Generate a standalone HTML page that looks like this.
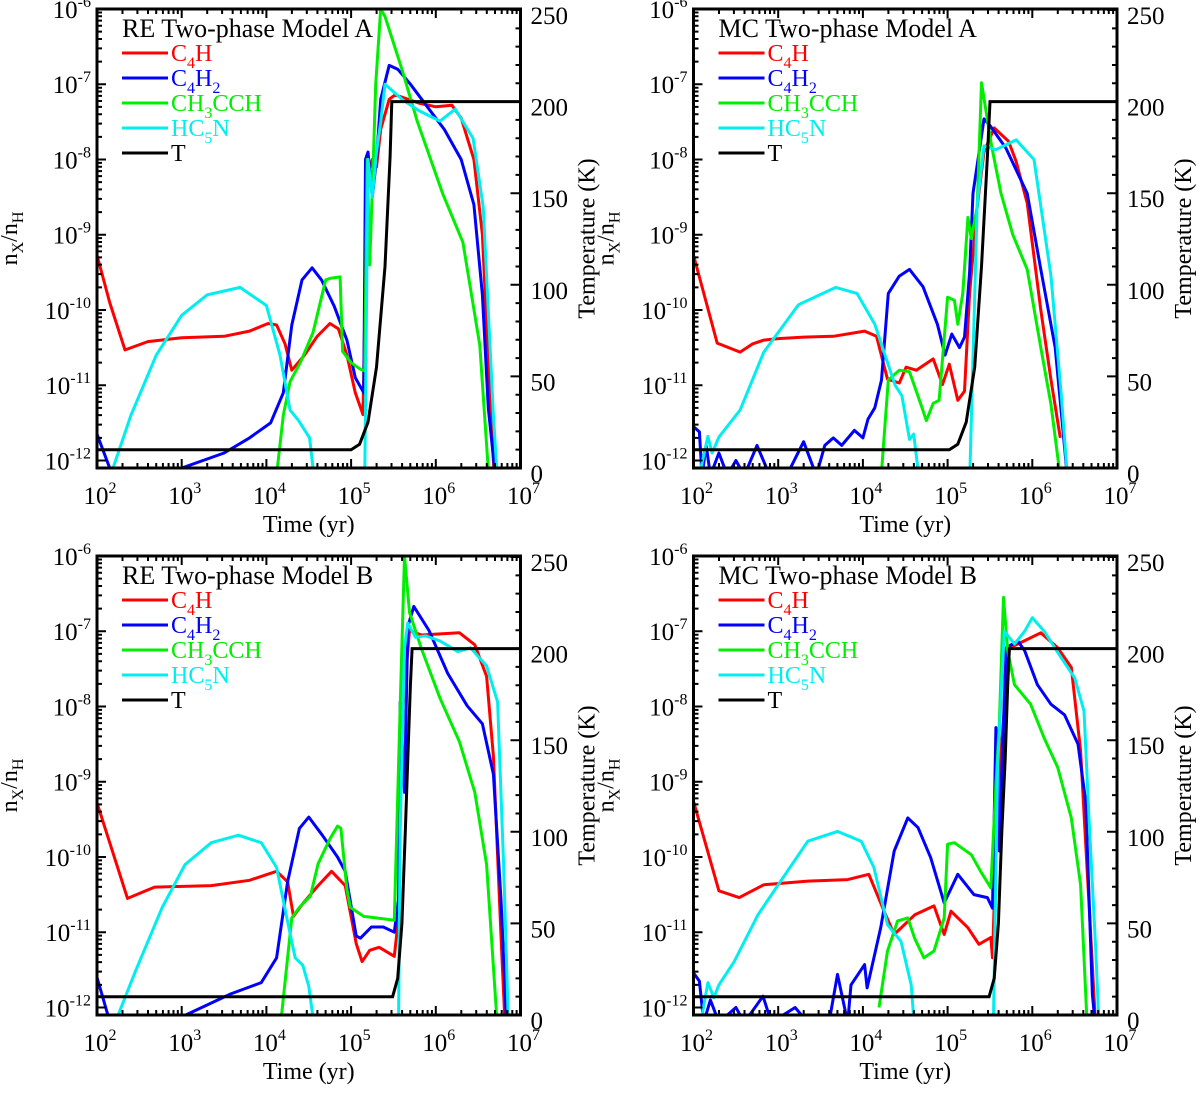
<!DOCTYPE html>
<html><head><meta charset="utf-8"><style>
html,body{margin:0;padding:0;background:#fff;}
svg{display:block;}
text{font-family:"Liberation Serif","Times New Roman",serif;}
</style></head><body>
<svg id="fig" width="1200" height="1102" viewBox="0 0 1200 1102" xmlns="http://www.w3.org/2000/svg" font-family="Liberation Serif, serif"></svg>
<script>
// ---- Data: log10(time/yr) and log10(nX/nH); temperatures in K ----
// Panel RE Model A
const reA_C4H_t = [2,2.15,2.33,2.6,3,3.5,3.8,4.02,4.12,4.22,4.3,4.45,4.6,4.75,4.85,4.95,5.05,5.14,5.17,5.2,5.25,5.3,5.35,5.45,5.52,5.8,6.0,6.19,6.3,6.45,6.55,6.64,6.7];
const reA_C4H_n = [-9.27,-9.9,-10.53,-10.42,-10.37,-10.35,-10.28,-10.18,-10.2,-10.45,-10.8,-10.6,-10.35,-10.18,-10.25,-10.6,-11.1,-11.39,-9.5,-8.2,-8.0,-8.1,-7.6,-7.2,-7.14,-7.25,-7.3,-7.28,-7.45,-8.0,-9.0,-11.2,-12.4];
const reA_C4H2_t = [2,2.15,2.2,3.0,3.5,3.8,4.05,4.2,4.3,4.42,4.54,4.65,4.8,4.95,5.05,5.15,5.17,5.2,5.25,5.3,5.35,5.45,5.55,5.7,5.9,6.1,6.2,6.3,6.45,6.55,6.62,6.72];
const reA_C4H2_n = [-11.65,-12.1,-12.4,-12.1,-11.9,-11.7,-11.5,-11.1,-10.2,-9.6,-9.44,-9.6,-9.95,-10.4,-10.9,-11.1,-8.0,-7.9,-8.5,-8.0,-7.2,-6.75,-6.8,-7.0,-7.3,-7.6,-7.8,-8.0,-8.6,-9.8,-11.3,-12.4];
const reA_CH3CCH_t = [4.11,4.2,4.28,4.4,4.55,4.7,4.75,4.87,4.9,5.0,5.1,5.16,5.19,5.22,5.26,5.29,5.35,5.4,5.6,5.78,6.08,6.32,6.52,6.63];
const reA_CH3CCH_n = [-12.3,-11.4,-10.95,-10.7,-10.3,-9.6,-9.58,-9.56,-10.55,-10.7,-10.78,-10.81,-8.0,-9.4,-8.1,-7.0,-6.0,-6.1,-6.8,-7.49,-8.45,-9.1,-10.47,-12.3];
const reA_HC5N_t = [2.13,2.4,2.7,3.0,3.3,3.69,4.0,4.16,4.28,4.38,4.51,4.57,5.16,5.2,5.25,5.3,5.35,5.4,5.61,5.8,6.05,6.23,6.44,6.56,6.68,6.73];
const reA_HC5N_n = [-12.3,-11.4,-10.6,-10.07,-9.8,-9.7,-9.94,-10.6,-11.33,-11.47,-11.7,-12.3,-12.3,-8.0,-8.5,-7.9,-7.5,-7.0,-7.21,-7.35,-7.49,-7.33,-7.72,-8.63,-11.4,-12.3];
const reA_T_t = [2,5.0,5.1,5.2,5.3,5.4,5.46,5.48,7];
const reA_T_v = [10,10,13,25,55,110,170,200,200];
// Panel MC Model A
const mcA_C4H_t = [2,2.28,2.55,2.7,2.83,3.0,3.3,3.65,4.02,4.16,4.29,4.43,4.51,4.63,4.83,4.94,5.02,5.12,5.2,5.26,5.35,5.43,5.55,5.72,5.81,5.94,6.1,6.22,6.33];
const mcA_C4H_n = [-9.27,-10.44,-10.56,-10.45,-10.4,-10.38,-10.36,-10.35,-10.28,-10.35,-10.92,-10.97,-10.76,-10.8,-10.65,-10.99,-10.72,-11.2,-11.08,-9.78,-8.63,-7.9,-7.58,-7.76,-8.03,-8.58,-10.0,-10.92,-11.7];
const mcA_C4H2_t = [2,2.07,2.1,2.15,2.2,2.3,2.4,2.5,2.6,2.75,2.9,3.0,3.1,3.3,3.45,3.55,3.65,3.75,3.9,4.0,4.06,4.14,4.22,4.3,4.43,4.55,4.71,4.88,4.97,5.05,5.14,5.2,5.26,5.3,5.43,5.5,5.69,5.81,5.94,6.1,6.27,6.42];
const mcA_C4H2_n = [-11.55,-11.62,-12.2,-11.8,-12.2,-11.9,-12.2,-12.0,-12.2,-11.8,-12.2,-12.1,-12.2,-11.75,-12.2,-11.8,-11.7,-11.8,-11.6,-11.7,-11.45,-11.3,-10.93,-9.78,-9.55,-9.46,-9.69,-10.19,-10.6,-10.32,-10.5,-10.36,-9.5,-8.45,-7.46,-7.55,-7.85,-8.14,-8.45,-9.46,-10.5,-12.3];
const mcA_CH3CCH_t = [4.21,4.3,4.43,4.55,4.68,4.75,4.83,4.9,5.0,5.08,5.12,5.18,5.24,5.28,5.35,5.4,5.52,5.63,5.77,5.94,6.1,6.22,6.34];
const mcA_CH3CCH_n = [-12.3,-10.93,-10.8,-10.82,-11.24,-11.47,-11.24,-11.2,-9.83,-9.87,-10.19,-9.78,-8.77,-9.05,-8.63,-6.98,-7.82,-8.45,-9.0,-9.46,-10.5,-11.25,-12.3];
const mcA_HC5N_t = [2.05,2.17,2.22,2.3,2.55,2.83,3.24,3.68,3.93,4.14,4.38,4.46,4.55,4.6,4.67,5.26,5.35,5.43,5.57,5.81,6.02,6.22,6.34,6.42];
const mcA_HC5N_n = [-12.3,-11.68,-11.9,-11.69,-11.33,-10.56,-9.93,-9.7,-9.78,-10.19,-11.0,-11.14,-11.72,-11.65,-12.3,-12.3,-8.59,-7.82,-7.87,-7.74,-8.0,-9.54,-11.1,-12.3];
const mcA_T_t = [2,5.02,5.12,5.22,5.32,5.4,5.47,5.5,7];
const mcA_T_v = [10,10,13,25,55,110,170,200,200];
// Panel RE Model B
const reB_C4H_t = [2,2.36,2.68,3.35,3.8,4.12,4.25,4.32,4.43,4.61,4.77,4.93,5.06,5.13,5.22,5.33,5.51,5.56,5.6,5.69,5.83,6.28,6.46,6.6,6.68,6.77,6.82];
const reB_C4H_n = [-9.28,-10.55,-10.4,-10.38,-10.31,-10.19,-10.33,-10.79,-10.62,-10.38,-10.19,-10.38,-11.15,-11.39,-11.24,-11.2,-11.32,-10.81,-8.18,-6.99,-7.05,-7.02,-7.18,-7.6,-8.66,-11.05,-12.3];
const reB_C4H2_t = [2,2.18,2.2,3.01,3.58,3.94,4.12,4.25,4.39,4.5,4.66,4.84,4.93,5.06,5.11,5.24,5.38,5.51,5.56,5.58,5.63,5.67,5.74,5.92,6.14,6.37,6.55,6.68,6.77,6.84];
const reB_C4H2_n = [-11.6,-12.3,-12.4,-12.12,-11.82,-11.67,-11.34,-10.33,-9.62,-9.47,-9.71,-10.0,-10.19,-11.05,-11.08,-10.93,-10.93,-11.0,-10.57,-7.94,-9.14,-6.94,-6.67,-6.99,-7.56,-7.99,-8.23,-8.9,-10.57,-12.3];
const reB_CH3CCH_t = [4.16,4.3,4.39,4.52,4.61,4.75,4.84,4.88,4.95,4.99,5.15,5.51,5.58,5.63,5.69,5.83,6.05,6.28,6.46,6.6,6.73];
const reB_CH3CCH_n = [-12.3,-10.81,-10.67,-10.52,-10.09,-9.76,-9.59,-9.62,-10.43,-10.67,-10.79,-10.84,-7.99,-6.0,-6.75,-7.23,-7.89,-8.47,-9.14,-10.1,-12.3];
const reB_HC5N_t = [2.18,2.45,2.77,3.04,3.35,3.67,3.94,4.12,4.25,4.34,4.43,4.5,4.57,5.56,5.58,5.63,5.67,5.76,5.88,6.05,6.26,6.41,6.6,6.73,6.8,6.86];
const reB_HC5N_n = [-12.3,-11.53,-10.67,-10.1,-9.81,-9.71,-9.81,-10.14,-10.86,-11.34,-11.44,-11.72,-12.3,-12.3,-9.62,-7.22,-6.89,-7.08,-7.06,-7.13,-7.27,-7.22,-7.46,-7.94,-10.1,-12.3];
const reB_T_t = [2,5.49,5.55,5.6,5.64,5.67,5.7,5.72,7];
const reB_T_v = [10,10,20,50,100,140,180,200,200];
// Panel MC Model B
const mcB_C4H_t = [2,2.3,2.54,2.83,3.35,3.82,4.07,4.25,4.37,4.61,4.84,4.96,5.04,5.24,5.37,5.51,5.53,5.57,5.63,5.73,5.83,6.1,6.3,6.46,6.57,6.69,6.75];
const mcB_C4H_n = [-9.26,-10.45,-10.54,-10.37,-10.32,-10.3,-10.23,-10.72,-11.03,-10.77,-10.65,-11.03,-10.72,-10.94,-11.16,-11.07,-11.34,-9.92,-8.59,-7.22,-7.17,-7.02,-7.22,-7.48,-8.59,-11.03,-12.3];
const mcB_C4H2_t = [2,2.07,2.12,2.2,2.3,2.5,2.6,2.82,2.92,3.2,3.35,3.55,3.6,3.7,3.82,3.86,4.02,4.05,4.21,4.37,4.53,4.65,4.8,4.96,5.12,5.31,5.47,5.53,5.57,5.61,5.69,5.83,5.91,6.06,6.22,6.38,6.54,6.63,6.71,6.75];
const mcB_C4H2_n = [-11.54,-11.65,-12.2,-11.9,-12.2,-12.0,-12.2,-11.85,-12.2,-12.0,-12.2,-12.1,-12.2,-11.56,-12.2,-11.7,-11.43,-11.74,-10.94,-9.92,-9.48,-9.61,-10.01,-10.61,-10.23,-10.5,-10.54,-10.68,-8.28,-9.92,-7.22,-7.13,-7.26,-7.71,-7.97,-8.11,-8.5,-9.26,-11.83,-12.3];
const mcB_CH3CCH_t = [4.19,4.29,4.41,4.53,4.61,4.72,4.84,4.96,5.0,5.08,5.28,5.39,5.51,5.57,5.61,5.66,5.71,5.79,5.98,6.14,6.3,6.46,6.57,6.65];
const mcB_CH3CCH_n = [-12.0,-11.25,-10.85,-10.81,-11.08,-11.34,-11.25,-10.81,-9.83,-9.81,-9.97,-10.19,-10.41,-9.04,-8.24,-6.55,-7.26,-7.71,-7.97,-8.42,-8.81,-9.48,-10.37,-12.3];
const mcB_HC5N_t = [2.07,2.17,2.24,2.3,2.48,2.76,3.03,3.35,3.7,3.98,4.13,4.29,4.45,4.57,4.61,5.54,5.59,5.67,5.79,5.91,6.0,6.14,6.34,6.5,6.61,6.67,6.75,6.79];
const mcB_HC5N_n = [-12.3,-11.67,-11.87,-11.7,-11.39,-10.77,-10.32,-9.79,-9.66,-9.79,-10.14,-10.9,-11.12,-11.7,-12.3,-12.3,-8.81,-7.0,-7.17,-7.0,-6.82,-7.0,-7.35,-7.62,-8.06,-9.48,-11.25,-12.3];
const mcB_T_t = [2,5.49,5.55,5.6,5.64,5.68,5.71,5.73,7];
const mcB_T_v = [10,10,20,50,100,140,180,200,200];

const xTickLabels = ["2","3","4","5","6","7"];
const yTickLabels = ["-6","-7","-8","-9","-10","-11","-12"];
const tTickLabels = [0,50,100,150,200,250];

const NS = "http://www.w3.org/2000/svg";
const svg = document.getElementById('fig');
const FF = '"Liberation Serif", serif';
function mk(tag, attrs, parent){ const e=document.createElementNS(NS,tag); for(const k in attrs) e.setAttribute(k,attrs[k]); if(tag==='text') e.setAttribute('font-family',FF); (parent||svg).appendChild(e); return e; }

const W=423.5, H=459, LOGMIN=-12.1;
const COLORS={C4H:"#ff0000",C4H2:"#0000ff",CH3CCH:"#00ee00",HC5N:"#00eeee",T:"#000000"};

function drawPanel(id, x0, y0, title, series, Tt, Tv){
  const g = mk('g',{});
  
  
  const xs = lt => x0 + (lt-2)/5*W;
  const ys = ln => y0 + (-6-ln)/(-6-LOGMIN)*H;
  const ts = T => y0 + H - T/250*(H-1);
  const cp = mk('clipPath',{id:'clip-'+id},g);
  mk('rect',{x:x0,y:y0,width:W,height:H},cp);
  const sg = mk('g',{'clip-path':'url(#clip-'+id+')'},g);
  
  
  for(const s of series){
    let d=''; for(let i=0;i<s.t.length;i++) d+=(i?'L':'M')+xs(s.t[i]).toFixed(1)+' '+ys(s.n[i]).toFixed(1);
    const p=mk('path',{d:d,fill:'none',stroke:COLORS[s.k],'stroke-width':3,'stroke-linejoin':'round'},sg);
    
    
  }
  let d=''; for(let i=0;i<Tt.length;i++) d+=(i?'L':'M')+xs(Tt[i]).toFixed(1)+' '+ts(Tv[i]).toFixed(1);
  const tp=mk('path',{d:d,fill:'none',stroke:'#000','stroke-width':3},sg);
  
  
  const fr=mk('rect',{x:x0,y:y0,width:W,height:H,fill:'none',stroke:'#000','stroke-width':3},g);
  
  
  let td='';
  for(let dec=2;dec<=7;dec++){
    const X=xs(dec);
    td+=`M${X} ${y0+H}v-9M${X} ${y0}v9`;
    if(dec<7) for(let m=2;m<=9;m++){const Xm=xs(dec+Math.log10(m)); td+=`M${Xm} ${y0+H}v-5M${Xm} ${y0}v5`;}
  }
  for(let i=0;i<=6;i++){
    const Y=ys(-6-i); td+=`M${x0} ${Y}h9`;
    if(i<6) for(let m=2;m<=9;m++){const Ym=ys(-6-i-1+Math.log10(m)); if(Ym<y0+H) td+=`M${x0} ${Ym}h5`;}
  }
  for(let T=0;T<=250;T+=10){ td+=`M${x0+W} ${ts(T)}h${T%50===0?-10:-5}`; }
  mk('path',{d:td,stroke:'#000','stroke-width':2,fill:'none'},g);
  xTickLabels.forEach((lab,i)=>{
    const t=mk('text',{x:xs(2+i)+3,y:y0+H+36,'font-size':25,'text-anchor':'middle'},g);
    
    
    t.innerHTML='10<tspan dy="-11" font-size="16">'+lab+'</tspan>';
  });
  yTickLabels.forEach((lab,i)=>{
    const t=mk('text',{x:x0-6,y:ys(-6-i)+9,'font-size':25,'text-anchor':'end'},g);
    
    
    t.innerHTML='10<tspan dy="-11" font-size="16">'+lab+'</tspan>';
  });
  tTickLabels.forEach(v=>{
    const t=mk('text',{x:x0+W+10,y:ts(v)+14,'font-size':25},g);
    
    
    t.textContent=v;
  });
  const xt=mk('text',{x:x0+W/2,y:y0+H+64,'font-size':24,'text-anchor':'middle'},g);
  
  
  xt.textContent='Time (yr)';
  const yt=mk('text',{transform:`translate(${x0-80},${y0+H/2}) rotate(-90)`,'font-size':24,'text-anchor':'middle'},g);
  
  
  yt.innerHTML='n<tspan dy="6" font-size="16">X</tspan><tspan dy="-6">/n</tspan><tspan dy="6" font-size="16">H</tspan>';
  const rt=mk('text',{transform:`translate(${x0+W+74},${y0+H/2}) rotate(-90)`,'font-size':24,'text-anchor':'middle'},g);
  
  
  rt.textContent='Temperature (K)';
  const ttl=mk('text',{x:x0+25,y:y0+28,'font-size':26},g);
  
  
  ttl.textContent=title;
  const labels=[['C4H','C<tspan dy="7" font-size="16">4</tspan><tspan dy="-7">H</tspan>'],
    ['C4H2','C<tspan dy="7" font-size="16">4</tspan><tspan dy="-7">H</tspan><tspan dy="7" font-size="16">2</tspan>'],
    ['CH3CCH','CH<tspan dy="7" font-size="16">3</tspan><tspan dy="-7">CCH</tspan>'],
    ['HC5N','HC<tspan dy="7" font-size="16">5</tspan><tspan dy="-7">N</tspan>'],
    ['T','T']];
  labels.forEach((l,i)=>{
    const Y=y0+44+i*25;
    const ln=mk('line',{x1:x0+25,x2:x0+71,y1:Y,y2:Y,stroke:COLORS[l[0]],'stroke-width':3},g);
    
    
    const tx=mk('text',{x:x0+74,y:Y+8,'font-size':24,fill:COLORS[l[0]]},g);
    
    
    tx.innerHTML=l[1];
  });
}

drawPanel('re-model-a',97,9,'RE Two-phase Model A',[
 {k:'C4H',t:reA_C4H_t,n:reA_C4H_n},{k:'C4H2',t:reA_C4H2_t,n:reA_C4H2_n},
 {k:'CH3CCH',t:reA_CH3CCH_t,n:reA_CH3CCH_n},{k:'HC5N',t:reA_HC5N_t,n:reA_HC5N_n}],reA_T_t,reA_T_v);
drawPanel('mc-model-a',693.5,9,'MC Two-phase Model A',[
 {k:'C4H',t:mcA_C4H_t,n:mcA_C4H_n},{k:'C4H2',t:mcA_C4H2_t,n:mcA_C4H2_n},
 {k:'CH3CCH',t:mcA_CH3CCH_t,n:mcA_CH3CCH_n},{k:'HC5N',t:mcA_HC5N_t,n:mcA_HC5N_n}],mcA_T_t,mcA_T_v);
drawPanel('re-model-b',97,556,'RE Two-phase Model B',[
 {k:'C4H',t:reB_C4H_t,n:reB_C4H_n},{k:'C4H2',t:reB_C4H2_t,n:reB_C4H2_n},
 {k:'CH3CCH',t:reB_CH3CCH_t,n:reB_CH3CCH_n},{k:'HC5N',t:reB_HC5N_t,n:reB_HC5N_n}],reB_T_t,reB_T_v);
drawPanel('mc-model-b',693.5,556,'MC Two-phase Model B',[
 {k:'C4H',t:mcB_C4H_t,n:mcB_C4H_n},{k:'C4H2',t:mcB_C4H2_t,n:mcB_C4H2_n},
 {k:'CH3CCH',t:mcB_CH3CCH_t,n:mcB_CH3CCH_n},{k:'HC5N',t:mcB_HC5N_t,n:mcB_HC5N_n}],mcB_T_t,mcB_T_v);
</script>
</body></html>
